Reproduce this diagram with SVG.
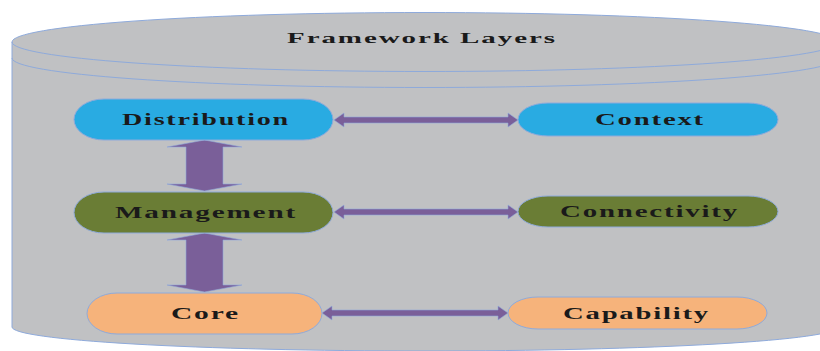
<svg xmlns="http://www.w3.org/2000/svg" width="820" height="351" viewBox="0 0 820 351">
<style>
.cyl{fill:#c0c1c3;stroke:#8eaadb;stroke-width:1}
.rim{fill:none;stroke:#8eaadb;stroke-width:1}
.node{stroke:#8eaadb;stroke-width:1}
.blue{fill:#29abe2}
.green{fill:#6a7d35}
.orange{fill:#f6b37b}
.arrow{fill:#7a5f99;stroke:#8eaadb;stroke-width:0.6}
text{font-family:"Liberation Serif","Times New Roman",serif;font-weight:bold;font-size:16px;letter-spacing:1px;fill:#1a1a1a;text-anchor:start}
</style>
<rect width="820" height="351" fill="#ffffff"/>
<g id="cylinder">
<path class="cyl" d="M12,42 A413,29.5 0 0 1 838,42 L838,327 A413,24 0 0 1 12,327 Z"/>
<path class="rim" d="M12,42 A413,29.5 0 0 0 838,42"/>
<path class="rim" d="M12,58 A413,29.5 0 0 0 838,58"/>
<text x="287" y="43" textLength="270" lengthAdjust="spacingAndGlyphs" style="font-size:15px">Framework Layers</text>
</g>
<g id="connectors">
<polygon class="arrow" points="204.5,140 242,147 223,147 223,184 242,184 204.5,191 167,184 186,184 186,147 167,147"/>
<polygon class="arrow" points="204.5,233 242,240 223,240 223,285 242,285 204.5,292 167,285 186,285 186,240 167,240"/>
<polygon class="arrow" points="334,120 344,113 344,117 508,117 508,113 518,120 508,127 508,123 344,123 344,127"/>
<polygon class="arrow" points="334,212 344,205 344,209 508,209 508,205 518,212 508,219 508,215 344,215 344,219"/>
<polygon class="arrow" points="322,313 332,306 332,310 498,310 498,306 508,313 498,320 498,316 332,316 332,320"/>
</g>
<g id="distribution">
<rect class="node blue" x="74" y="99" width="259" height="41" rx="30" ry="20.5"/>
<text x="122" y="125" textLength="168" lengthAdjust="spacingAndGlyphs">Distribution</text>
</g>
<g id="context">
<rect class="node blue" x="518" y="103" width="260" height="33" rx="30" ry="16.5"/>
<text x="595" y="125" textLength="110" lengthAdjust="spacingAndGlyphs">Context</text>
</g>
<g id="management">
<rect class="node green" x="74" y="192" width="259" height="41" rx="30" ry="20.5"/>
<text x="115" y="218" textLength="182" lengthAdjust="spacingAndGlyphs">Management</text>
</g>
<g id="connectivity">
<rect class="node green" x="518" y="196" width="260" height="31" rx="30" ry="15.5"/>
<text x="560" y="217" textLength="179" lengthAdjust="spacingAndGlyphs">Connectivity</text>
</g>
<g id="core">
<rect class="node orange" x="87" y="293" width="235" height="41" rx="30" ry="20.5"/>
<text x="171" y="319" textLength="69" lengthAdjust="spacingAndGlyphs">Core</text>
</g>
<g id="capability">
<rect class="node orange" x="508" y="297" width="259" height="32" rx="30" ry="16"/>
<text x="563" y="319" textLength="147" lengthAdjust="spacingAndGlyphs">Capability</text>
</g>
</svg>
